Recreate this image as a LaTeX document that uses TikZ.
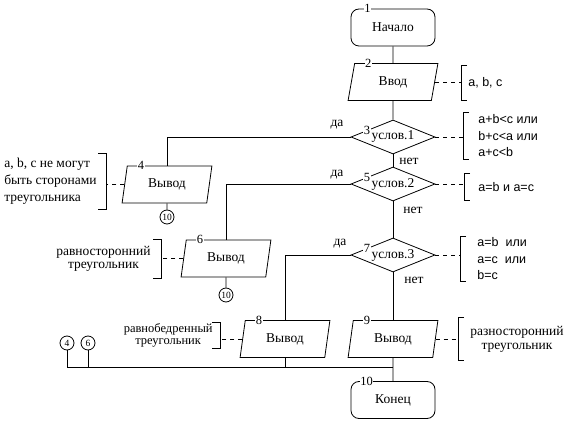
\documentclass[tikz,border=0pt]{standalone}
\usepackage{fontspec}
\setmainfont{Liberation Serif}
\setsansfont{Liberation Sans}
\usetikzlibrary{shapes.geometric}
\tikzset{
  term/.style={draw, rounded corners=8pt, minimum width=84pt, minimum height=37pt},
  io/.style={draw, trapezium, trapezium left angle=78, trapezium right angle=102,
    trapezium stretches=true, minimum width=90pt, minimum height=37pt, inner sep=0pt},
  cond/.style={draw, diamond, aspect=2.5, minimum width=84pt, minimum height=34pt, inner sep=0pt},
  num/.style={fill=white, inner sep=0.6pt, font=\fontsize{12.5}{12.5}\selectfont},
  conn/.style={draw, circle, inner sep=0pt, minimum size=14pt, font=\fontsize{9.5}{9.5}\selectfont},
  rnote/.style={anchor=west, inner ysep=0pt, align=left, minimum height=#1,
    font=\sffamily\fontsize{12.5}{16.5}\selectfont},
  lnote/.style={anchor=east, inner ysep=0pt, minimum height=#1},
  dashline/.style={dash pattern=on 4pt off 4pt}
}
\begin{document}
\begin{tikzpicture}[x=1pt, y=-1pt, line width=0.8pt, font=\rmfamily\fontsize{13.5}{15}\selectfont]
\useasboundingbox (0,0) rectangle (578,427);
% blocks
\node[term] (n1) at (393,27.5) {Начало};
\node[io] (n2) at (393,82) {Ввод};
\node[cond] (n3) at (393,137) {услов.1};
\node[io] (n4) at (167,184.5) {Вывод};
\node[cond] (n5) at (393,184) {услов.2};
\node[io] (n6) at (226,258.5) {Вывод};
\node[cond] (n7) at (393,255) {услов.3};
\node[io] (n8) at (285,339) {Вывод};
\node[io] (n9) at (393,339) {Вывод};
\node[term] (n10) at (393,400) {Конец};
% numbers
\node[num] at ([xshift=17pt]n1.north west) {1};
\node[num] at ([xshift=16pt]n10.north west) {10};
\foreach \b/\t in {n2/2, n4/4, n6/6, n8/8, n9/9}
  \node[num] at ([xshift=14pt]\b.top left corner) {\t};
\foreach \b/\t in {n3/3, n5/5, n7/7}
  \node[num] at ([shift={(-26pt,7pt)}]\b.center) {\t};
% yes / no
\node (y3) at (337,125) {да};
\node (y5) at (337,175) {да};
\node (y7) at (340,244) {да};
\node (f3) at (409,161) {нет};
\node (f5) at (413,210) {нет};
\node (f7) at (414,280) {нет};
% connectors
\node[conn] (c4) at (167,217) {10};
\node[conn] (c6) at (226,295) {10};
\node[conn] (k4) at (67,343) {4};
\node[conn] (k6) at (88,343) {6};
\coordinate (j) at (393,367);
\draw (n1) -- (n2);
\draw (n2) -- (n3);
\draw (n3) -- (n5);
\draw (n5) -- (n7);
\draw (n7) -- (n9);
\draw (n9) -- (n10);
\draw (n3) -| (n4);
\draw (n5) -| (n6);
\draw (n7) -| (n8);
\draw (n4) -- (c4);
\draw (n6) -- (c6);
\draw (k4) |- (j);
\draw (k6) -- (k6 |- j);
\draw (n8) -- (n8 |- j);
% comments
\node[rnote=34pt, inner xsep=7pt] (a2) at (461,83) {a, b, c};
\node[rnote=46pt, inner xsep=15pt] (a3) at (463,136) {a+b<c или\\b+c<a или\\a+c<b};
\node[rnote=27pt, inner xsep=14pt] (a5) at (464,187) {a=b и a=c};
\node[rnote=45pt, inner xsep=17pt] (a7) at (460,259) {a=b\ \ или\\a=c\ \ или\\b=c};
\node[rnote=42pt, inner xsep=12pt, align=center, font=\rmfamily\fontsize{13.5}{14}\selectfont] (a9) at (458,339) {разносторонний\\треугольник};
\node[lnote=56pt, inner xsep=9pt, align=left, font=\fontsize{13.5}{17}\selectfont] (a4) at (106,181.5) {a, b, c не могут\\быть сторонами\\треугольника};
\node[lnote=39pt, inner xsep=10pt, align=center, font=\fontsize{13.5}{13.5}\selectfont] (a6) at (161,259) {равносторонний\\треугольник};
\node[lnote=26pt, inner xsep=7pt, align=center, font=\fontsize{12.5}{12}\selectfont] (a8) at (220,335.5) {равнобедренный\\треугольник};
\foreach \a in {a2, a3, a5, a7, a9}
  \draw ([xshift=6pt]\a.north west) -- (\a.north west) -- (\a.south west) -- ([xshift=6pt]\a.south west);
\foreach \a in {a4, a6, a8}
  \draw ([xshift=-8pt]\a.north east) -- (\a.north east) -- (\a.south east) -- ([xshift=-8pt]\a.south east);
\draw[dashline] (n2.east) -- (n2.east -| a2.west);
\draw[dashline] (n3.east) -- (n3.east -| a3.west);
\draw[dashline] (n5.east) -- (n5.east -| a5.west);
\draw[dashline] (n7.east) -- (n7.east -| a7.west);
\draw[dashline] (n9.east) -- (n9.east -| a9.west);
\draw[dashline] (n4.west) -- (n4.west -| a4.east);
\draw[dashline] (n6.west) -- (n6.west -| a6.east);
\draw[dashline] (n8.west) -- (n8.west -| a8.east);
\end{tikzpicture}
\end{document}
